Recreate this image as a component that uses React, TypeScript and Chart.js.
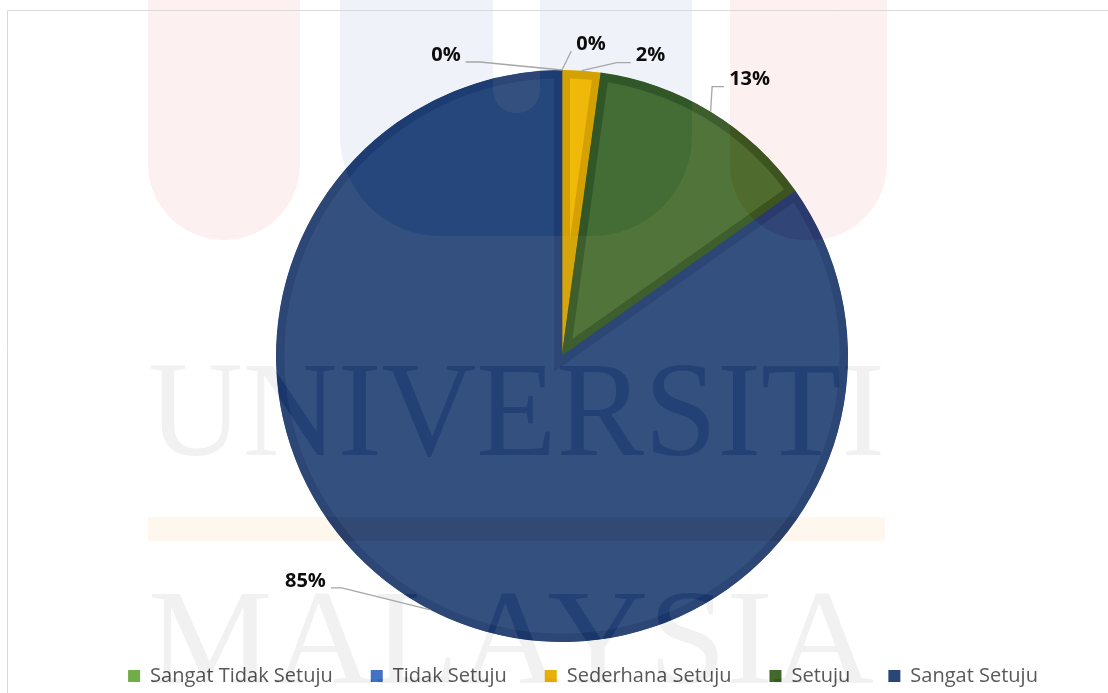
import React, { useEffect, useRef } from "react";
import { Chart, registerables } from "chart.js";

Chart.register(...registerables);

// ---- data ----
const categories = ["Sangat Tidak Setuju", "Tidak Setuju", "Sederhana Setuju", "Setuju", "Sangat Setuju"];
const responses = [0, 0, 1, 6, 39];

// ---- styles ----
const sliceColors = ["#70ad47", "#4472c4", "#f1bc10", "#50743a", "#34507f"];
const sliceBorderColors = ["#5f9a3a", "#3a63ad", "#d6a50b", "#3f5e2d", "#2c4676"];
const legendColors = ["#70ad47", "#4472c4", "#e7b00b", "#43682b", "#2a4677"];
// label placement relative to slice anchor: [dx, dy, elbow length]
const labelPlacement = [
  [-116, -15, 14],
  [29, -26, 0],
  [69, -15, 14],
  [39, -32, 12],
  [-125, -29, 11],
];

const paperPalette = { pink: "#fdf1f1", blue: "#f0f4f9", orange: "#fef7ef", text: "#f2f2f2" };
const burnPalette = { pink: "#fdf0f0", blue: "#eef3f8", orange: "#fdf5eb", text: "#ebebeb" };

function roundBottomRect(ctx: CanvasRenderingContext2D, x: number, y: number, w: number, h: number, r: number) {
  ctx.moveTo(x, y);
  ctx.lineTo(x + w, y);
  ctx.lineTo(x + w, y + h - r);
  ctx.arcTo(x + w, y + h, x + w - r, y + h, r);
  ctx.lineTo(x + r, y + h);
  ctx.arcTo(x, y + h, x, y + h - r, r);
  ctx.closePath();
}

function stretchedText(ctx: CanvasRenderingContext2D, text: string, x0: number, x1: number, baseline: number) {
  const m = ctx.measureText(text).width;
  ctx.save();
  ctx.translate(x0, baseline);
  ctx.scale((x1 - x0) / m, 1);
  ctx.textAlign = "left";
  ctx.textBaseline = "alphabetic";
  ctx.fillText(text, 0, 0);
  ctx.restore();
}

function drawWatermark(ctx: CanvasRenderingContext2D, pal: typeof paperPalette) {
  ctx.save();
  ctx.fillStyle = pal.pink;
  ctx.beginPath();
  roundBottomRect(ctx, 148, -40, 152, 280, 76);
  roundBottomRect(ctx, 730, -40, 157, 280, 76);
  ctx.fill();

  ctx.fillStyle = pal.blue;
  ctx.beginPath();
  roundBottomRect(ctx, 340, -40, 352, 276, 100);
  roundBottomRect(ctx, 493, -40, 47, 153, 23);
  ctx.fill("evenodd");

  ctx.fillStyle = pal.orange;
  ctx.fillRect(148, 517, 737, 24);

  ctx.fillStyle = pal.text;
  ctx.font = "136px 'Liberation Serif', 'DejaVu Serif', serif";
  stretchedText(ctx, "UNIVERSITI", 148, 885, 455);
  stretchedText(ctx, "MALAYSIA", 148, 874, 683);
  ctx.restore();
}

const decorPlugin = {
  id: "decor",
  afterLayout(chart: any) {
    if (chart.legend) {
      chart.legend.left += 21;
      chart.legend.right += 21;
    }
  },
  beforeDraw(chart: any) {
    const ctx: CanvasRenderingContext2D = chart.ctx;
    ctx.save();
    ctx.fillStyle = "#ffffff";
    ctx.fillRect(0, 0, chart.width, chart.height);
    drawWatermark(ctx, paperPalette);
    ctx.strokeStyle = "#d9d9d9";
    ctx.lineWidth = 1;
    ctx.beginPath();
    ctx.moveTo(7.5, chart.height);
    ctx.lineTo(7.5, 10.5);
    ctx.lineTo(chart.width, 10.5);
    ctx.stroke();
    ctx.restore();
  },
  afterDatasetsDraw(chart: any) {
    const ctx: CanvasRenderingContext2D = chart.ctx;
    ctx.save();
    ctx.globalCompositeOperation = "color-burn";
    drawWatermark(ctx, burnPalette);
    ctx.restore();

    const meta = chart.getDatasetMeta(0);
    const data = chart.data.datasets[0].data as number[];
    const total = data.reduce((a, b) => a + b, 0);
    ctx.save();
    ctx.font = "bold 20px 'Open Sans'";
    ctx.textAlign = "center";
    ctx.textBaseline = "middle";
    ctx.strokeStyle = "#a6a6a6";
    ctx.lineWidth = 1.3;
    ctx.fillStyle = "#0d0d0d";
    meta.data.forEach((arc: any, i: number) => {
      const p = arc.getProps(["x", "y", "startAngle", "endAngle", "outerRadius"], true);
      const mid = (p.startAngle + p.endAngle) / 2;
      const ax = p.x + Math.cos(mid) * p.outerRadius;
      const ay = p.y + Math.sin(mid) * p.outerRadius;
      const [dx, dy, elbow] = labelPlacement[i];
      const lx = ax + dx;
      const ly = ay + dy;
      const text = Math.round((data[i] / total) * 100) + "%";
      const w = ctx.measureText(text).width;
      const sx = dx < 0 ? lx + w / 2 + 5 : lx - w / 2 - 5;
      const sy = ly + 7;
      const ex = dx < 0 ? sx + elbow : sx - elbow;
      ctx.beginPath();
      ctx.moveTo(sx, sy);
      ctx.lineTo(ex, sy);
      ctx.lineTo(ax, ay);
      ctx.stroke();
      ctx.fillText(text, lx, ly);
    });
    ctx.restore();
  },
};

export default function App() {
  const canvasRef = useRef<HTMLCanvasElement | null>(null);

  useEffect(() => {
    if (!canvasRef.current) return;
    const chart = new Chart(canvasRef.current, {
      type: "pie",
      data: {
        labels: categories,
        datasets: [
          {
            data: responses,
            backgroundColor: sliceColors,
            borderColor: sliceBorderColors,
            borderWidth: (c: any) => (c.raw > 0 ? 8 : 0),
            borderAlign: "inner",
            borderJoinStyle: "miter",
            radius: 286,
            clip: false,
          } as any,
        ],
      },
      options: {
        animation: false,
        responsive: true,
        maintainAspectRatio: false,
        devicePixelRatio: 1,
        events: [],
        layout: { padding: { left: 16, right: 0, top: 84, bottom: -3 } },
        plugins: {
          tooltip: { enabled: false },
          legend: {
            position: "bottom",
            align: "center",
            labels: {
              boxWidth: 12,
              boxHeight: 12,
              padding: 38,
              color: "#595959",
              font: { family: "'Open Sans'", size: 20 },
              generateLabels: (ch: any) => {
                const base = (Chart as any).overrides.pie.plugins.legend.labels.generateLabels(ch);
                return base.map((item: any, i: number) => ({
                  ...item,
                  fillStyle: legendColors[i],
                  strokeStyle: legendColors[i],
                  lineWidth: 0,
                }));
              },
            },
          },
        },
      } as any,
      plugins: [decorPlugin],
    });
    return () => chart.destroy();
  }, []);

  return (
    <div style={{ position: "fixed", left: 0, top: 0, width: 1108, height: 693 }}>
      <canvas ref={canvasRef} />
    </div>
  );
}
